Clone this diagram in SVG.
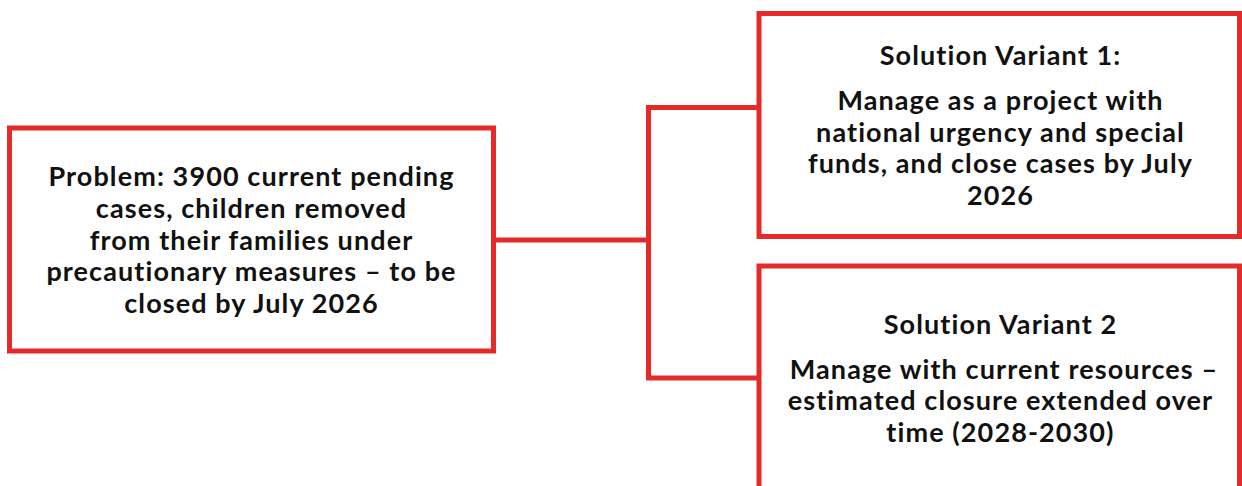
<svg xmlns="http://www.w3.org/2000/svg" width="1242" height="486" viewBox="0 0 1242 486">
  <style>
    .box { fill: #ffffff; stroke: #e52b2a; stroke-width: 5; }
    .link { fill: none; stroke: #e52b2a; stroke-width: 5; }
    .label { font-family: "Lato", "Liberation Sans", sans-serif; font-weight: 700; font-size: 27px; letter-spacing: 1.1px; fill: #111111; text-anchor: middle; }
  </style>
  <rect width="1242" height="486" fill="#ffffff"/>

  <g id="connectors">
    <path class="link" d="M496 240 H648.5"/>
    <path class="link" d="M758 107.5 H648.5 V378 H758"/>
  </g>

  <g id="problem">
    <rect class="box" x="9.5" y="128" width="484" height="223"/>
    <text class="label" x="251.5" y="186">Problem: 3900 current pending</text>
    <text class="label" x="251.5" y="218">cases, children removed</text>
    <text class="label" x="251.5" y="249.5">from their families under</text>
    <text class="label" x="251.5" y="281">precautionary measures – to be</text>
    <text class="label" x="251.5" y="313">closed by July 2026</text>
  </g>

  <g id="variant1">
    <rect class="box" x="759" y="13.5" width="480.5" height="223"/>
    <text class="label" x="1000.5" y="65">Solution Variant 1:</text>
    <text class="label" x="1000.5" y="110">Manage as a project with</text>
    <text class="label" x="1000.5" y="141.5">national urgency and special</text>
    <text class="label" x="1000.5" y="173">funds, and close cases by July</text>
    <text class="label" x="1000.5" y="205">2026</text>
  </g>

  <g id="variant2">
    <rect class="box" x="759" y="266" width="480.5" height="250"/>
    <text class="label" x="1000.5" y="333.5">Solution Variant 2</text>
    <text class="label" x="1004" y="378.5">Manage with current resources –</text>
    <text class="label" x="1000.5" y="409.5">estimated closure extended over</text>
    <text class="label" x="1000.5" y="441.5">time (2028-2030)</text>
  </g>
</svg>
